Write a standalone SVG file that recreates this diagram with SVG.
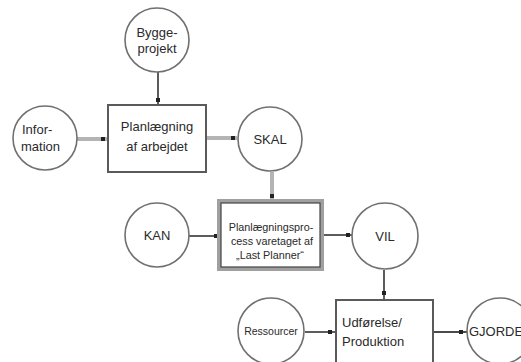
<svg xmlns="http://www.w3.org/2000/svg" width="521" height="362" viewBox="0 0 521 362">
<style>
.c{fill:#fff;stroke:#707070;stroke-width:1.6}
.b{fill:#fff;stroke:#5a5a5a;stroke-width:2}
.t{font-family:"Liberation Sans",Arial,sans-serif;fill:#2a2a2a;text-anchor:middle}
.s{text-anchor:start}
.l{fill:none;stroke:#4a4a4a;stroke-width:1.8}
.g{fill:none;stroke:#b4b4b4;stroke-width:4}
.e{fill:#222}
</style>
<rect width="521" height="362" fill="#fff"/>
<g id="connectors">
<line class="l" x1="158" y1="72" x2="158" y2="105"/><rect class="e" x="156" y="98" width="4" height="4"/>
<line class="g" x1="77" y1="139" x2="108" y2="139"/><rect class="e" x="101" y="137" width="4" height="4"/>
<line class="g" x1="206" y1="138" x2="237" y2="138"/><rect class="e" x="231" y="136" width="4" height="4"/>
<line class="g" x1="272" y1="172" x2="272" y2="201"/><rect class="e" x="270" y="194" width="4" height="4"/>
<line class="l" x1="189" y1="236" x2="219" y2="236"/><rect class="e" x="214" y="234" width="4" height="4"/>
<line class="l" x1="322" y1="235" x2="352" y2="235"/><rect class="e" x="346" y="233" width="4" height="4"/>
<line class="l" x1="384" y1="270" x2="384" y2="300"/><rect class="e" x="382" y="291" width="4" height="4"/>
<line class="l" x1="305" y1="332" x2="336" y2="332"/><rect class="e" x="328" y="330" width="4" height="4"/>
<line class="l" x1="433" y1="332" x2="467" y2="332"/><rect class="e" x="459" y="330" width="4" height="4"/>
</g>
<g id="byggeprojekt"><circle class="c" cx="157" cy="40" r="32"/>
<text class="t" font-size="13" x="157" y="37">Bygge-</text><text class="t" font-size="13" x="157" y="53">projekt</text></g>
<g id="information"><circle class="c" cx="45" cy="138" r="32"/>
<text class="t s" font-size="13" x="22" y="134">Infor-</text><text class="t s" font-size="13" x="21" y="151">mation</text></g>
<g id="planlaegning"><rect class="b" x="108" y="105" width="98" height="67"/>
<text class="t" font-size="13" x="157" y="131">Planlægning</text><text class="t" font-size="13" x="157" y="151">af arbejdet</text></g>
<g id="skal"><circle class="c" cx="270" cy="139" r="32"/>
<text class="t" font-size="13" x="270" y="144">SKAL</text></g>
<g id="kan"><circle class="c" cx="157" cy="235" r="32"/>
<text class="t" font-size="13" x="157" y="240">KAN</text></g>
<g id="planlaegningsproces"><rect x="219" y="201" width="103" height="68" fill="#fff" stroke="#a0a0a0" stroke-width="4"/>
<rect x="221" y="203" width="99" height="64" fill="none" stroke="#444" stroke-width="1.2"/>
<text class="t" font-size="10.8" x="271" y="231">Planlægningspro-</text><text class="t" font-size="10.8" x="272" y="245">cess varetaget af</text><text class="t" font-size="10.8" x="270" y="259">„Last Planner“</text></g>
<g id="vil"><circle class="c" cx="385" cy="236" r="33"/>
<text class="t" font-size="13" x="385" y="241">VIL</text></g>
<g id="ressourcer"><circle class="c" cx="271" cy="331" r="33"/>
<text class="t" font-size="10.5" x="271" y="335">Ressourcer</text></g>
<g id="udfoerelse"><rect class="b" x="336" y="300" width="97" height="70"/>
<text class="t s" font-size="13" x="342" y="327">Udførelse/</text><text class="t s" font-size="13" x="342" y="346">Produktion</text></g>
<g id="gjorde"><circle class="c" cx="500" cy="331" r="33"/>
<text class="t s" font-size="13" x="469" y="336">GJORDE</text></g>
</svg>
